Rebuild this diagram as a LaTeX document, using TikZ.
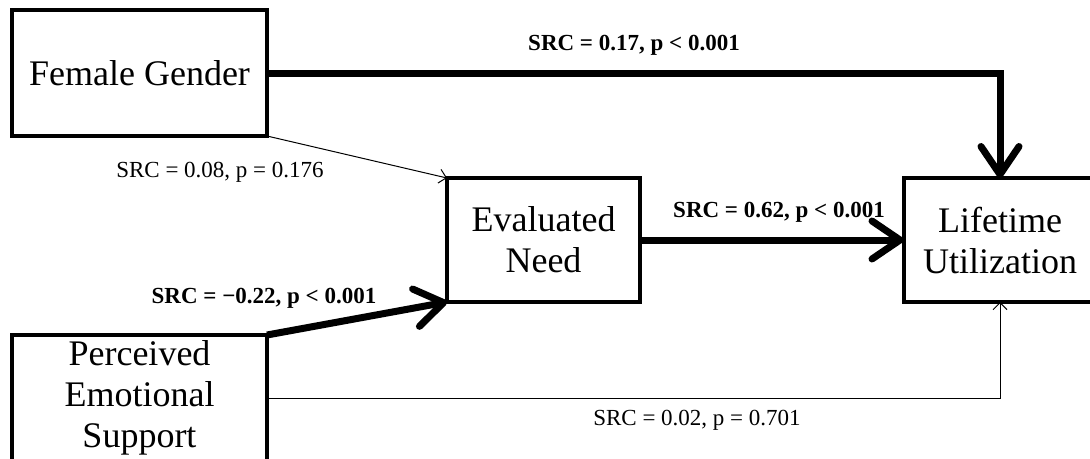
\documentclass[tikz,border=0pt]{standalone}
\usepackage{fontspec}
\setmainfont{Liberation Serif}
\usetikzlibrary{arrows.meta}
\tikzstyle{box}=[draw, line width=4pt, inner sep=0, outer sep=0, align=center,
                 font=\fontsize{36}{41}\selectfont]
\tikzstyle{strong}=[line width=7pt, -{Straight Barb[round, length=28pt,width=38pt,line width=7pt]}]
\tikzstyle{weak}=[line width=1pt, -{Straight Barb[length=7pt,width=14pt,line width=1pt]}]
\tikzstyle{src}=[inner sep=0, font=\fontsize{23}{26}\selectfont]

\begin{document}
\begin{tikzpicture}[x=1pt, y=-1pt]
        \useasboundingbox (0, 0) rectangle (1090, 458);
        \clip (0, 0) rectangle (1090, 458);
        \node[box, minimum width=255pt, minimum height=126pt] (gender) at (139.5, 73) {Female Gender};
        \node[box, minimum width=255pt, minimum height=126pt] (support) at (139.5, 398) {Perceived\\Emotional\\Support};
        \node[box, minimum width=193pt, minimum height=124pt] (need) at (543.5, 240) {Evaluated\\Need};
        \node[box, minimum width=193pt, minimum height=124pt] (use) at (1000, 240) {Lifetime\\Utilization};
        \draw[strong] (gender.east) -| (use.north);
        \draw[weak] (gender.south east) -- (need.north west);
        \draw[strong] (support.north east) -- (need.south west);
        \draw[strong] (need.east) -- (use.west);
        \draw[weak] (support.east) -| (use.south);
        % path coefficients
        \node[src, font=\fontsize{23}{26}\selectfont\bfseries] (srcgu) at (634, 45) {SRC = 0.17, p < 0.001};
        \node[src] (srcgn) at (220, 172) {SRC = 0.08, p = 0.176};
        \node[src, font=\fontsize{23}{26}\selectfont\bfseries] (srcnu) at (779, 212) {SRC = 0.62, p < 0.001};
        \node[src, font=\fontsize{23}{26}\selectfont\bfseries] (srcsn) at (264, 298) {SRC = −0.22, p < 0.001};
        \node[src] (srcsu) at (697, 420) {SRC = 0.02, p = 0.701};
    \end{tikzpicture}
\end{document}
